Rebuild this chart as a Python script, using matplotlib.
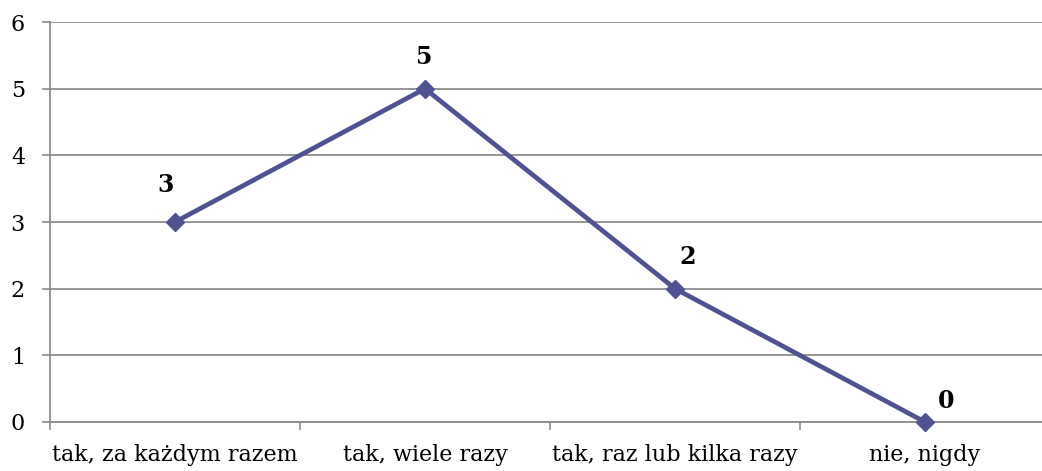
import matplotlib.pyplot as plt

categories = ["tak, za każdym razem", "tak, wiele razy", "tak, raz lub kilka razy", "nie, nigdy"]
values = [3, 5, 2, 0]

# label offsets (points) to mimic the original placement
label_dx = [-7, -1, 9, 15]
label_dy = [27, 23, 23, 15]

plt.rcParams['font.family'] = ['DejaVu Serif']

fig = plt.figure(figsize=(10.42, 4.71), dpi=100)
ax = fig.add_axes([50 / 1042, 49 / 471, 1000 / 1042, 400 / 471])

xs = [i + 0.5 for i in range(len(categories))]
ax.plot(xs, values, color='#4F5290', linewidth=3.4, marker='D', markersize=9.5,
        zorder=3, clip_on=False)

for x, v, dx, dy in zip(xs, values, label_dx, label_dy):
    ax.annotate(str(v), (x, v), xytext=(dx, dy), textcoords='offset points',
                ha='center', va='center', fontsize=17, fontweight='bold')

ax.set_xlim(0, len(categories))
ax.set_ylim(0, 6)
ax.set_yticks(range(7))
ax.set_xticks(range(len(categories) + 1))
ax.set_xticklabels([])
ax.set_xticks(xs, minor=True)
ax.set_xticklabels(categories, minor=True)
ax.tick_params(axis='x', which='minor', length=0, pad=16, labelsize=16)
ax.tick_params(axis='x', which='major', length=6, color='#8C8C8C', width=1.2)
ax.tick_params(axis='y', length=6, color='#8C8C8C', width=1.2, pad=12, labelsize=16)

ax.grid(axis='y', color='#8C8C8C', linewidth=1.3)
ax.set_axisbelow(True)
for side in ['top', 'right']:
    ax.spines[side].set_visible(False)
for side in ['left', 'bottom']:
    ax.spines[side].set_color('#8C8C8C')
    ax.spines[side].set_linewidth(1.3)

plt.savefig('out.png', dpi=100)
